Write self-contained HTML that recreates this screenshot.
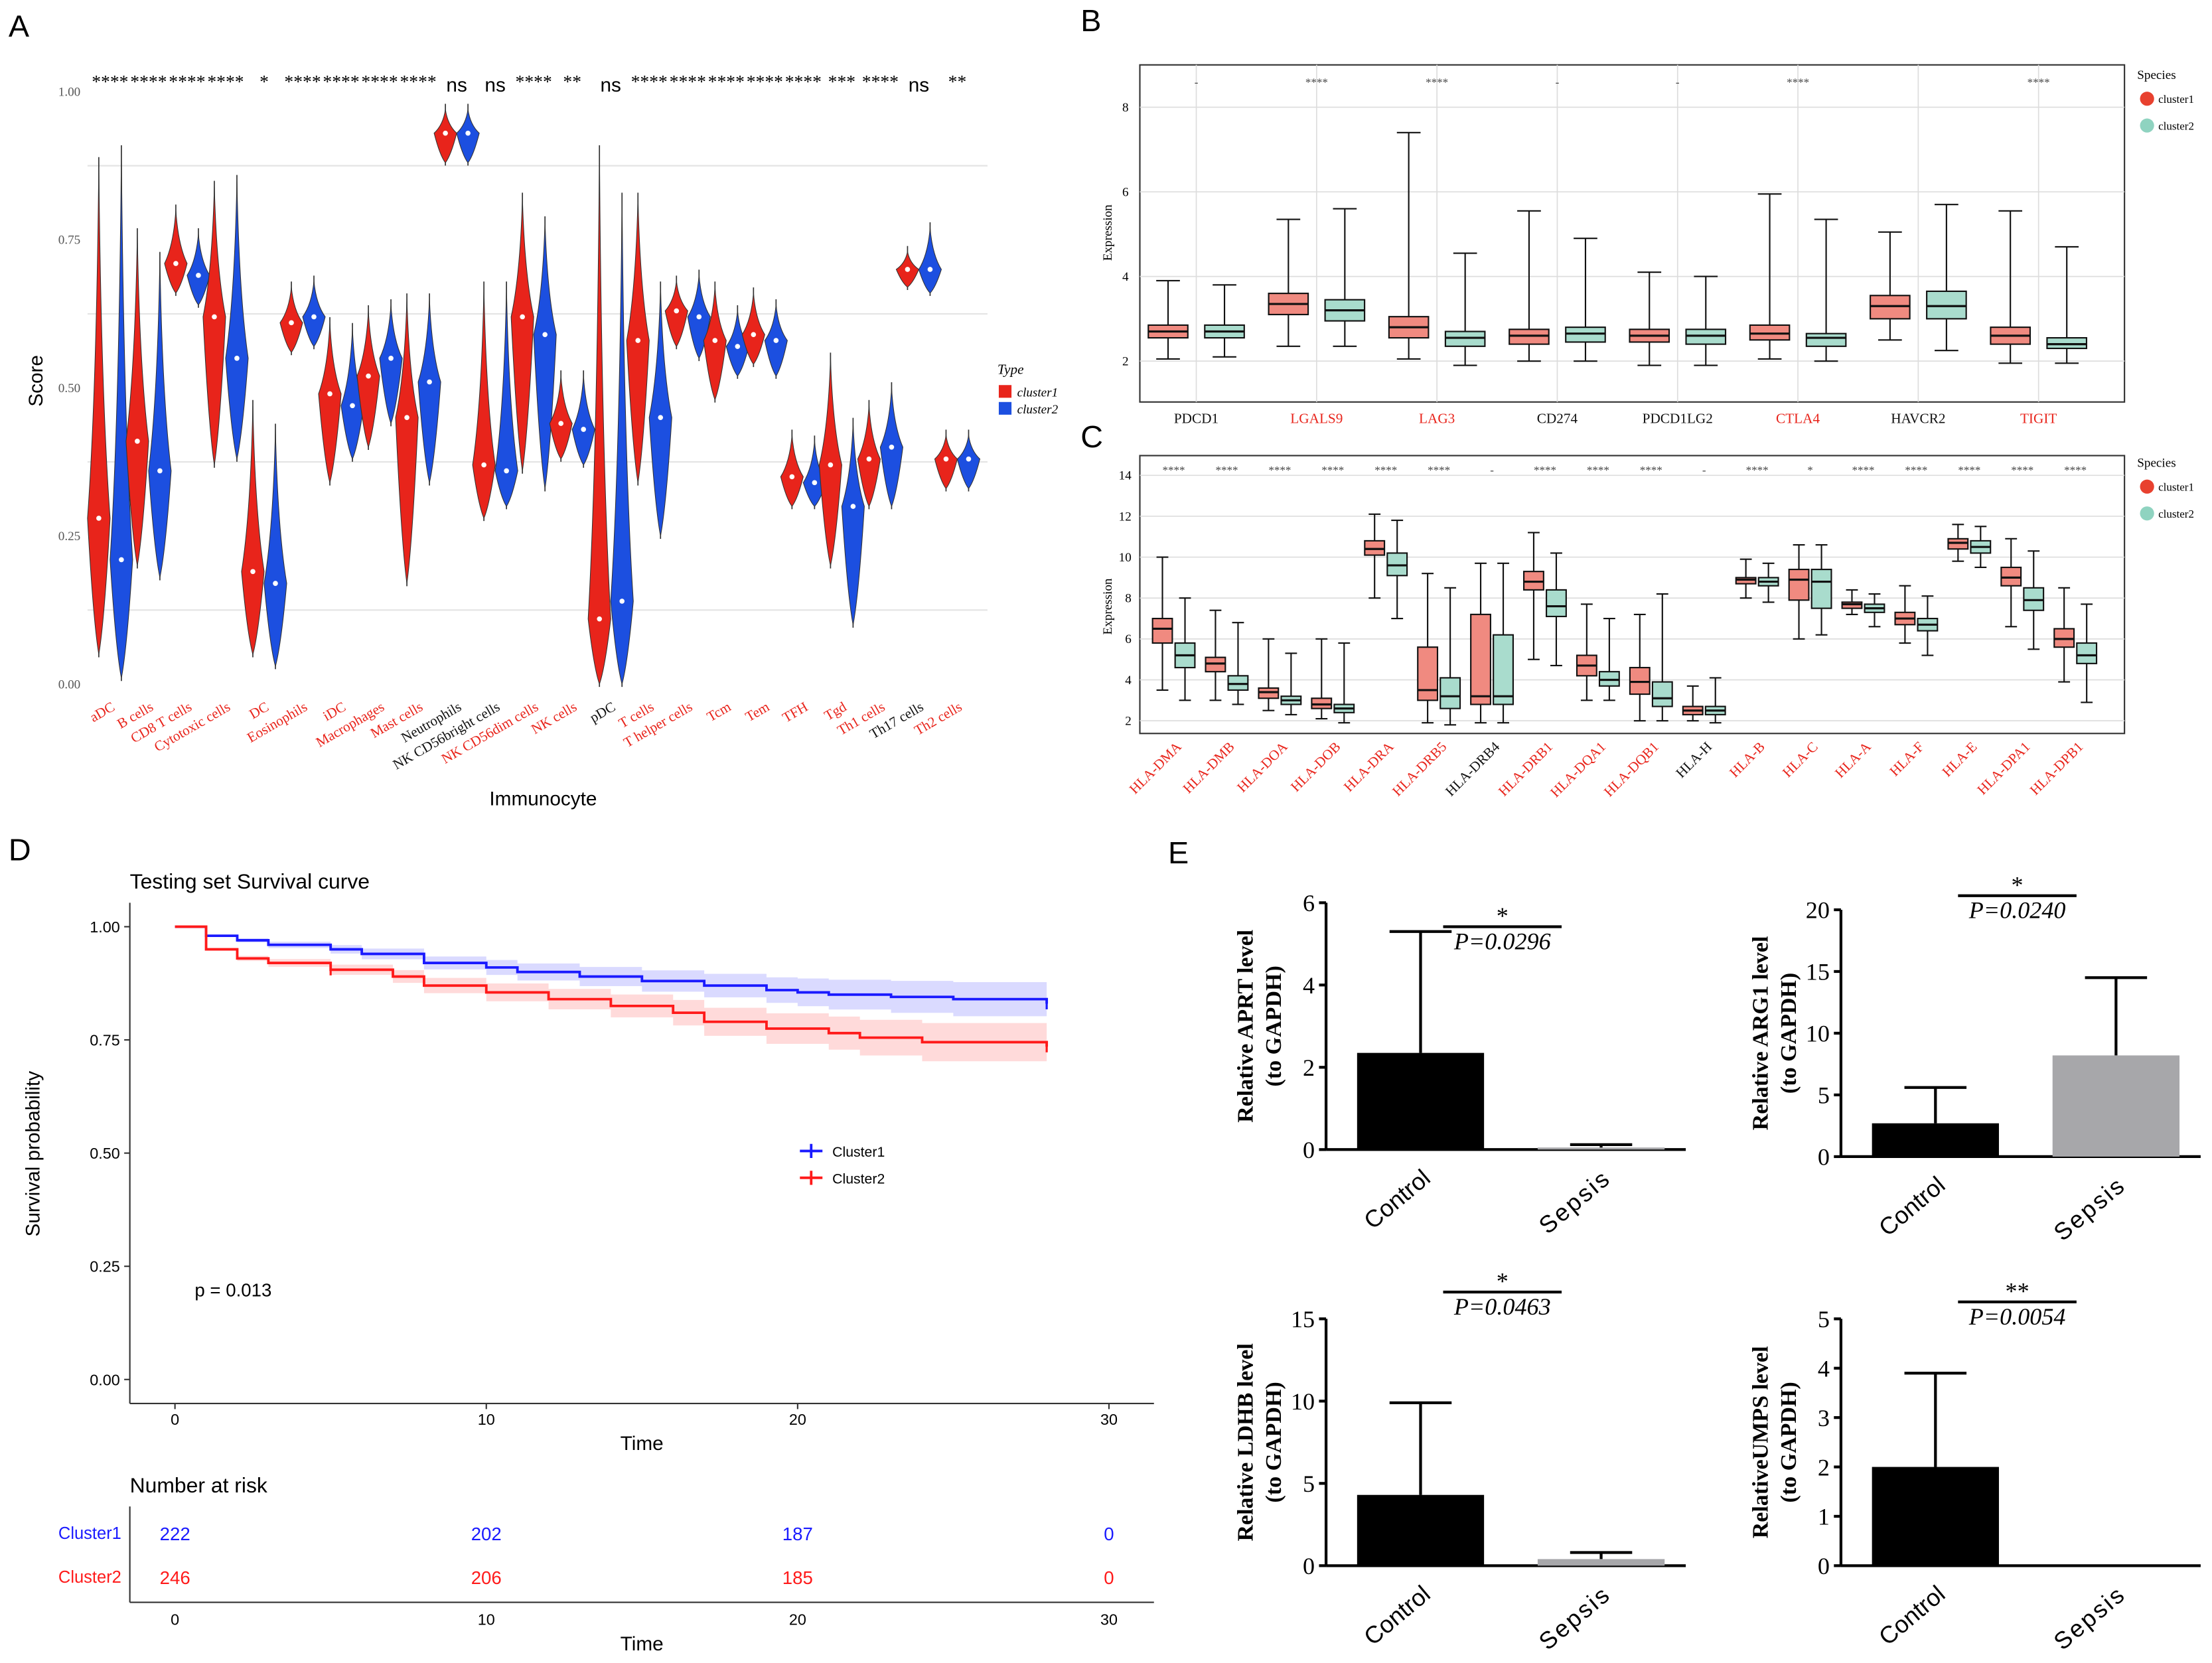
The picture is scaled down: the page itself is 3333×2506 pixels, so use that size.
<!DOCTYPE html>
<html><head><meta charset="utf-8"><style>
html,body{margin:0;padding:0;background:#fff;}
svg{display:block;}
</style></head><body>
<svg id="fig" xmlns="http://www.w3.org/2000/svg" width="3333" height="2506" viewBox="0 0 1568 1179"></svg>
<script>
// ---------- Panel A data ----------
const aCells=["aDC","B cells","CD8 T cells","Cytotoxic cells","DC","Eosinophils","iDC","Macrophages","Mast cells","Neutrophils","NK CD56bright cells","NK CD56dim cells","NK cells","pDC","T cells","T helper cells","Tcm","Tem","TFH","Tgd","Th1 cells","Th17 cells","Th2 cells"];
const aMed1=[0.28,0.41,0.71,0.62,0.19,0.61,0.49,0.52,0.45,0.93,0.37,0.62,0.44,0.11,0.58,0.63,0.58,0.59,0.35,0.37,0.38,0.70,0.38];
const aMed2=[0.21,0.36,0.69,0.55,0.17,0.62,0.47,0.55,0.51,0.93,0.36,0.59,0.43,0.14,0.45,0.62,0.57,0.58,0.34,0.30,0.40,0.70,0.38];
const aMin1=[0.05,0.20,0.66,0.37,0.05,0.56,0.34,0.40,0.17,0.88,0.28,0.36,0.38,0.00,0.34,0.57,0.48,0.54,0.30,0.20,0.30,0.67,0.33];
const aMax1=[0.88,0.76,0.80,0.84,0.47,0.67,0.61,0.63,0.65,0.97,0.67,0.82,0.52,0.90,0.82,0.68,0.67,0.66,0.42,0.55,0.47,0.73,0.42];
const aMin2=[0.01,0.18,0.64,0.38,0.03,0.57,0.38,0.44,0.34,0.88,0.30,0.33,0.37,0.00,0.25,0.55,0.52,0.52,0.30,0.10,0.30,0.66,0.33];
const aMax2=[0.90,0.72,0.76,0.85,0.43,0.68,0.60,0.64,0.65,0.97,0.67,0.78,0.52,0.82,0.67,0.69,0.63,0.64,0.41,0.44,0.50,0.77,0.42];
const aSig=["****","****","****","****","*","****","****","****","****","ns","ns","****","**","ns","****","****","****","****","****","***","****","ns","**"];
const aBlack=["Neutrophils","NK CD56bright cells","pDC","Th17 cells"];
const aTicks=[0,0.25,0.5,0.75,1.0];
// ---------- Panel B data ----------
const bGenes=["PDCD1","LGALS9","LAG3","CD274","PDCD1LG2","CTLA4","HAVCR2","TIGIT"];
const bRed=["LGALS9","LAG3","CTLA4","TIGIT"];
const bSig=["-","****","****","-","-","****","","****"];
const bC1=[[2.05,2.55,2.7,2.85,3.9],[2.35,3.1,3.35,3.6,5.35],[2.05,2.55,2.8,3.05,7.4],[2.0,2.4,2.6,2.75,5.55],[1.9,2.45,2.6,2.75,4.1],[2.05,2.5,2.65,2.85,5.95],[2.5,3.0,3.3,3.55,5.05],[1.95,2.4,2.6,2.8,5.55]];
const bC2=[[2.1,2.55,2.7,2.85,3.8],[2.35,2.95,3.2,3.45,5.6],[1.9,2.35,2.55,2.7,4.55],[2.0,2.45,2.65,2.8,4.9],[1.9,2.4,2.6,2.75,4.0],[2.0,2.35,2.55,2.65,5.35],[2.25,3.0,3.3,3.65,5.7],[1.95,2.3,2.4,2.55,4.7]];
const bTicks=[2,4,6,8];
// ---------- Panel C data ----------
const cGenes=["HLA-DMA","HLA-DMB","HLA-DOA","HLA-DOB","HLA-DRA","HLA-DRB5","HLA-DRB4","HLA-DRB1","HLA-DQA1","HLA-DQB1","HLA-H","HLA-B","HLA-C","HLA-A","HLA-F","HLA-E","HLA-DPA1","HLA-DPB1"];
const cBlack=["HLA-DRB4","HLA-H"];
const cSig=["****","****","****","****","****","****","-","****","****","****","-","****","*","****","****","****","****","****"];
const cC1=[[3.5,5.8,6.5,7.0,10],[3,4.4,4.8,5.1,7.4],[2.5,3.1,3.4,3.6,6],[2.1,2.6,2.8,3.1,6],[8,10.1,10.4,10.8,12.1],[1.9,3,3.5,5.6,9.2],[1.9,2.8,3.2,7.2,9.7],[5,8.4,8.8,9.3,11.2],[3,4.2,4.7,5.2,7.7],[2,3.3,3.9,4.6,7.2],[2,2.3,2.5,2.7,3.7],[8,8.7,8.9,9.0,9.9],[6,7.9,8.9,9.4,10.6],[7.2,7.5,7.7,7.8,8.4],[5.8,6.7,7.0,7.3,8.6],[9.8,10.4,10.7,10.9,11.6],[6.6,8.6,9.0,9.5,10.9],[3.9,5.6,6.0,6.5,8.5]];
const cC2=[[3,4.6,5.2,5.8,8],[2.8,3.5,3.8,4.2,6.8],[2.3,2.8,3.0,3.2,5.3],[1.9,2.4,2.6,2.8,5.8],[7,9.1,9.6,10.2,11.8],[1.8,2.6,3.2,4.1,8.5],[1.9,2.8,3.2,6.2,9.7],[4.7,7.1,7.6,8.4,10.2],[3,3.7,4.0,4.4,7.0],[2,2.7,3.1,3.9,8.2],[1.9,2.3,2.5,2.7,4.1],[7.8,8.6,8.8,9.0,9.7],[6.2,7.5,8.8,9.4,10.6],[6.6,7.3,7.5,7.7,8.2],[5.2,6.4,6.7,7.0,8.1],[9.5,10.2,10.5,10.8,11.5],[5.5,7.4,7.9,8.5,10.3],[2.9,4.8,5.2,5.8,7.7]];
const cTicks=[2,4,6,8,10,12,14];
// ---------- Panel D data ----------
const dT1=[0,1,2,3,5,6,8,10,11,13,15,17,19,20,21,23,25,28];
const dS1=[1,0.98,0.97,0.96,0.95,0.94,0.92,0.91,0.90,0.89,0.88,0.87,0.86,0.855,0.85,0.845,0.84,0.83];
const dT2=[0,1,2,3,5,7,8,10,12,14,16,17,19,21,22,24,28];
const dS2=[1,0.95,0.93,0.92,0.905,0.89,0.87,0.855,0.84,0.825,0.81,0.79,0.775,0.765,0.755,0.745,0.735];
const dXTicks=[0,10,20,30];
const dYTicks=[0,0.25,0.5,0.75,1.0];
const dRisk1=[222,202,187,0];
const dRisk2=[246,206,185,0];
// ---------- Panel E data ----------
const eTitles=[["Relative APRT level","(to GAPDH)"],["Relative ARG1 level","(to GAPDH)"],["Relative LDHB level","(to GAPDH)"],["RelativeUMPS level","(to GAPDH)"]];
const eCtrl=[2.35,2.7,4.3,2.0];
const eCtrlErr=[5.3,5.6,9.9,3.9];
const eSeps=[0.05,8.2,0.4,0];
const eSepsErr=[0.12,14.5,0.8,0];
const eMax=[6,20,15,5];
const eStep=[2,5,5,1];
const eP=["P=0.0296","P=0.0240","P=0.0463","P=0.0054"];
const eStars=["*","*","*","**"];

const NS="http://www.w3.org/2000/svg";
const svg=document.getElementById('fig');
function mk(tag,attrs,name,parent,txt){
  const el=document.createElementNS(NS,tag);
  for(const k in attrs) el.setAttribute(k,attrs[k]);
  
  
  if(txt!==undefined) el.textContent=txt;
  (parent||svg).appendChild(el);
  return el;
}
const SERIF='"Liberation Serif", serif', SANS='"Liberation Sans", sans-serif';

// ================= Panel A =================
mk('text',{x:6,y:26,'font-family':SANS,'font-size':22},'panel-a-label',null,'A');
const ax0=62,ax1=700,ayTop=45,ayBot=492;
const aY=v=>485-v*420;
const aX=i=>78+i*27.3;
[0.125,0.375,0.625,0.875].forEach(v=>mk('line',{x1:ax0,x2:ax1,y1:aY(v),y2:aY(v),stroke:'#e4e4e4','stroke-width':1},'a-gridline'));
aTicks.forEach(v=>mk('text',{x:57,y:aY(v)+3,'text-anchor':'end','font-family':SERIF,'font-size':9,fill:'#555'},'a-y-tick',null,v.toFixed(2)));
mk('text',{x:30,y:270,'text-anchor':'middle','font-family':SANS,'font-size':14,transform:'rotate(-90 30 270)'},'a-y-axis-title',null,'Score');
function violin(cx,w,mn,md,mx,col,name){
  const yt=aY(mx),ym=aY(md),yb=aY(mn);
  const d=`M${cx},${yt} Q${cx+w*0.2},${ym-(ym-yt)*0.35} ${cx+w},${ym} Q${cx+w*0.5},${yb-(yb-ym)*0.25} ${cx},${yb} Q${cx-w*0.5},${yb-(yb-ym)*0.25} ${cx-w},${ym} Q${cx-w*0.2},${ym-(ym-yt)*0.35} ${cx},${yt} Z`;
  mk('line',{x1:cx,x2:cx,y1:yt-4,y2:yb+2,stroke:'#333','stroke-width':0.8},name+'-whisker');
  mk('path',{d:d,fill:col,stroke:'#333','stroke-width':0.5},name);
  mk('circle',{cx:cx,cy:ym,r:1.8,fill:'#fff'},name+'-median');
}
aCells.forEach((c,i)=>{
  const cx=aX(i);
  violin(cx-8,8,aMin1[i],aMed1[i],aMax1[i],'#e8241b','violin-cluster1');
  violin(cx+8,8,aMin2[i],aMed2[i],aMax2[i],'#1c4fe0','violin-cluster2');
  const isNs=aSig[i]==='ns';
  mk('text',{x:cx,y:isNs?65:62,'text-anchor':'middle','font-family':isNs?SANS:SERIF,'font-size':isNs?14:13},'a-significance',null,aSig[i]);
  const col=aBlack.includes(c)?'#111':'#e8241b';
  mk('text',{x:cx+4,y:503,'text-anchor':'end','font-family':SERIF,'font-size':10,fill:col,transform:`rotate(-30 ${cx+4} 503)`},'a-x-tick-label',null,c);
});
mk('text',{x:385,y:571,'text-anchor':'middle','font-family':SANS,'font-size':14},'a-x-axis-title',null,'Immunocyte');
mk('text',{x:707,y:265,'font-family':SERIF,'font-size':10,'font-style':'italic'},'a-legend-title',null,'Type');
mk('rect',{x:708,y:273,width:9,height:9,fill:'#e8241b'},'a-legend-swatch-cluster1');
mk('rect',{x:708,y:285,width:9,height:9,fill:'#1c4fe0'},'a-legend-swatch-cluster2');
mk('text',{x:721,y:281,'font-family':SERIF,'font-size':9,'font-style':'italic'},'a-legend-cluster1',null,'cluster1');
mk('text',{x:721,y:293,'font-family':SERIF,'font-size':9,'font-style':'italic'},'a-legend-cluster2',null,'cluster2');

// ================= Box helper =================
function box(cx,w,q,Y,col,name){
  const [mn,q1,md,q3,mx]=q;
  mk('line',{x1:cx,x2:cx,y1:Y(mx),y2:Y(mn),stroke:'#111','stroke-width':1},name+'-whisker');
  mk('line',{x1:cx-w*0.3,x2:cx+w*0.3,y1:Y(mx),y2:Y(mx),stroke:'#111','stroke-width':1},name+'-cap');
  mk('line',{x1:cx-w*0.3,x2:cx+w*0.3,y1:Y(mn),y2:Y(mn),stroke:'#111','stroke-width':1},name+'-cap');
  mk('rect',{x:cx-w/2,y:Y(q3),width:w,height:Y(q1)-Y(q3),fill:col,stroke:'#111','stroke-width':1},name);
  mk('line',{x1:cx-w/2,x2:cx+w/2,y1:Y(md),y2:Y(md),stroke:'#111','stroke-width':1.5},name+'-median');
}
const RED='#f08a80',GRN='#a9dccd';

// ================= Panel B =================
mk('text',{x:766,y:22,'font-family':SANS,'font-size':22},'panel-b-label',null,'B');
mk('rect',{x:808,y:46,width:698,height:239,fill:'#fff',stroke:'#333','stroke-width':1},'b-plot-area');
const bY=v=>256-(v-2)*30;
const bX=i=>848+i*85.3;
bTicks.forEach(v=>{mk('line',{x1:808,x2:1506,y1:bY(v),y2:bY(v),stroke:'#ddd','stroke-width':0.8},'b-gridline');
  mk('text',{x:800,y:bY(v)+3,'text-anchor':'end','font-family':SERIF,'font-size':9},'b-y-tick',null,v);});
mk('text',{x:788,y:165,'text-anchor':'middle','font-family':SERIF,'font-size':9,transform:'rotate(-90 788 165)'},'b-y-axis-title',null,'Expression');
bGenes.forEach((g,i)=>{const cx=bX(i);
  mk('line',{x1:cx,x2:cx,y1:46,y2:285,stroke:'#ddd','stroke-width':0.8},'b-gridline-v');
  box(cx-20,28,bC1[i],bY,RED,'b-box-cluster1');
  box(cx+20,28,bC2[i],bY,GRN,'b-box-cluster2');
  mk('text',{x:cx,y:61,'text-anchor':'middle','font-family':SERIF,'font-size':8,fill:'#444'},'b-significance',null,bSig[i]);
  mk('text',{x:cx,y:300,'text-anchor':'middle','font-family':SERIF,'font-size':10,fill:bRed.includes(g)?'#e8241b':'#111'},'b-x-tick-label',null,g);
});
mk('text',{x:1515,y:56,'font-family':SERIF,'font-size':9},'b-legend-title',null,'Species');
mk('circle',{cx:1522,cy:70,r:5,fill:'#e8412f'},'b-legend-swatch-cluster1');
mk('circle',{cx:1522,cy:89,r:5,fill:'#8fd3c0'},'b-legend-swatch-cluster2');
mk('text',{x:1530,y:73,'font-family':SERIF,'font-size':8},'b-legend-cluster1',null,'cluster1');
mk('text',{x:1530,y:92,'font-family':SERIF,'font-size':8},'b-legend-cluster2',null,'cluster2');

// ================= Panel C =================
mk('text',{x:766,y:317,'font-family':SANS,'font-size':22},'panel-c-label',null,'C');
mk('rect',{x:808,y:323,width:698,height:197,fill:'#fff',stroke:'#333','stroke-width':1},'c-plot-area');
const cY=v=>511-(v-2)*14.5;
const cX=i=>832+i*37.6;
cTicks.forEach(v=>{mk('line',{x1:808,x2:1506,y1:cY(v),y2:cY(v),stroke:'#ddd','stroke-width':0.8},'c-gridline');
  mk('text',{x:802,y:cY(v)+3,'text-anchor':'end','font-family':SERIF,'font-size':9},'c-y-tick',null,v);});
mk('text',{x:788,y:430,'text-anchor':'middle','font-family':SERIF,'font-size':9,transform:'rotate(-90 788 430)'},'c-y-axis-title',null,'Expression');
cGenes.forEach((g,i)=>{const cx=cX(i);
  box(cx-8,14,cC1[i],cY,RED,'c-box-cluster1');
  box(cx+8,14,cC2[i],cY,GRN,'c-box-cluster2');
  mk('text',{x:cx,y:336,'text-anchor':'middle','font-family':SERIF,'font-size':8,fill:'#444'},'c-significance',null,cSig[i]);
  mk('text',{x:cx+6,y:530,'text-anchor':'end','font-family':SERIF,'font-size':10,fill:cBlack.includes(g)?'#111':'#e8241b',transform:`rotate(-45 ${cx+6} 530)`},'c-x-tick-label',null,g);
});
mk('text',{x:1515,y:331,'font-family':SERIF,'font-size':9},'c-legend-title',null,'Species');
mk('circle',{cx:1522,cy:345,r:5,fill:'#e8412f'},'c-legend-swatch-cluster1');
mk('circle',{cx:1522,cy:364,r:5,fill:'#8fd3c0'},'c-legend-swatch-cluster2');
mk('text',{x:1530,y:348,'font-family':SERIF,'font-size':8},'c-legend-cluster1',null,'cluster1');
mk('text',{x:1530,y:367,'font-family':SERIF,'font-size':8},'c-legend-cluster2',null,'cluster2');

// ================= Panel D =================
mk('text',{x:6,y:610,'font-family':SANS,'font-size':22},'panel-d-label',null,'D');
mk('text',{x:92,y:630,'font-family':SANS,'font-size':15},'d-title',null,'Testing set Survival curve');
const dX=t=>124+t*22.07;
const dY=s=>978-s*321;
mk('line',{x1:92,x2:92,y1:640,y2:995},'d-y-axis').setAttribute('stroke','#333');
mk('line',{x1:92,x2:818,y1:995,y2:995},'d-x-axis').setAttribute('stroke','#333');
dYTicks.forEach(v=>{mk('line',{x1:88,x2:92,y1:dY(v),y2:dY(v),stroke:'#333'},'d-y-tick-mark');
  mk('text',{x:85,y:dY(v)+4,'text-anchor':'end','font-family':SANS,'font-size':11},'d-y-tick',null,v.toFixed(2));});
dXTicks.forEach(v=>{mk('line',{x1:dX(v),x2:dX(v),y1:995,y2:999,stroke:'#333'},'d-x-tick-mark');
  mk('text',{x:dX(v),y:1010,'text-anchor':'middle','font-family':SANS,'font-size':11},'d-x-tick',null,v);});
mk('text',{x:455,y:1028,'text-anchor':'middle','font-family':SANS,'font-size':14},'d-x-axis-title',null,'Time');
mk('text',{x:28,y:818,'text-anchor':'middle','font-family':SANS,'font-size':14,transform:'rotate(-90 28 818)'},'d-y-axis-title',null,'Survival probability');
function stepPath(T,S,off){let d=`M${dX(T[0])},${dY(Math.min(1,S[0]+off))}`;
  for(let i=1;i<T.length;i++){d+=` H${dX(T[i])} V${dY(Math.min(1,S[i]+off))}`;} return d;}
function band(T,S,k,col,name){const up=[],lo=[];
  let d=stepPath(T,S,0)+' ';
  let pts=[];for(let i=0;i<T.length;i++){const w=k*i/(T.length-1);pts.push([T[i],S[i]+w,S[i]-w]);}
  let p=`M${dX(pts[0][0])},${dY(Math.min(1,pts[0][1]))}`;
  for(let i=1;i<pts.length;i++)p+=` H${dX(pts[i][0])} V${dY(Math.min(1,pts[i][1]))}`;
  p+=` H${dX(28)}`;
  p+=` V${dY(pts[pts.length-1][2])}`;
  for(let i=pts.length-1;i>=1;i--)p+=` H${dX(pts[i][0])} V${dY(pts[i-1][2])}`;
  p+=` H${dX(pts[0][0])} Z`;
  mk('path',{d:p,fill:col,'fill-opacity':0.18,stroke:'none'},name);}
band(dT1,dS1,0.04,'#3333ff','d-ci-cluster1');
band(dT2,dS2,0.045,'#ff3333','d-ci-cluster2');
mk('path',{d:stepPath(dT1,dS1,0)+` H${dX(28)}`,fill:'none',stroke:'#1a1aff','stroke-width':1.8},'d-curve-cluster1');
mk('path',{d:stepPath(dT2,dS2,0)+` H${dX(28)}`,fill:'none',stroke:'#ff1a1a','stroke-width':1.8},'d-curve-cluster2');
[[28,dS1[dS1.length-1],'#1a1aff'],[5,0.905,'#ff1a1a'],[28,dS2[dS2.length-1],'#ff1a1a']].forEach(c=>mk('path',{d:`M${dX(c[0])},${dY(c[1])-4} v8`,stroke:c[2],'stroke-width':1.5},'d-censor-mark'));
mk('path',{d:'M567,816 h16 M575,811 v10',stroke:'#1a1aff','stroke-width':1.8},'d-legend-swatch-cluster1');
mk('path',{d:'M567,835 h16 M575,830 v10',stroke:'#ff1a1a','stroke-width':1.8},'d-legend-swatch-cluster2');
mk('text',{x:590,y:820,'font-family':SANS,'font-size':10},'d-legend-cluster1',null,'Cluster1');
mk('text',{x:590,y:839,'font-family':SANS,'font-size':10},'d-legend-cluster2',null,'Cluster2');
mk('text',{x:138,y:919,'font-family':SANS,'font-size':13},'d-p-value',null,'p = 0.013');
mk('text',{x:92,y:1058,'font-family':SANS,'font-size':15},'d-risk-title',null,'Number at risk');
mk('line',{x1:92,x2:92,y1:1068,y2:1136,stroke:'#333'},'d-risk-y-axis');
mk('line',{x1:92,x2:818,y1:1136,y2:1136,stroke:'#333'},'d-risk-x-axis');
mk('text',{x:86,y:1091,'text-anchor':'end','font-family':SANS,'font-size':12,fill:'#1a1aff'},'d-risk-label-cluster1',null,'Cluster1');
mk('text',{x:86,y:1122,'text-anchor':'end','font-family':SANS,'font-size':12,fill:'#ff1a1a'},'d-risk-label-cluster2',null,'Cluster2');
dXTicks.forEach((v,i)=>{
  mk('text',{x:dX(v),y:1092,'text-anchor':'middle','font-family':SANS,'font-size':13,fill:'#1a1aff'},'d-risk-count-cluster1',null,dRisk1[i]);
  mk('text',{x:dX(v),y:1123,'text-anchor':'middle','font-family':SANS,'font-size':13,fill:'#ff1a1a'},'d-risk-count-cluster2',null,dRisk2[i]);
  mk('text',{x:dX(v),y:1152,'text-anchor':'middle','font-family':SANS,'font-size':11},'d-risk-x-tick',null,v);
});
mk('text',{x:455,y:1170,'text-anchor':'middle','font-family':SANS,'font-size':14},'d-risk-x-axis-title',null,'Time');

// ================= Panel E =================
mk('text',{x:828,y:612,'font-family':SANS,'font-size':22},'panel-e-label',null,'E');
const eLay=[{ax:940,y0:815,y1:640},{ax:1305,y0:820,y1:645},{ax:940,y0:1110,y1:935},{ax:1305,y0:1110,y1:935}];
eLay.forEach((L,k)=>{
  const Y=v=>L.y0-(v/eMax[k])*(L.y0-L.y1);
  mk('line',{x1:L.ax,x2:L.ax,y1:L.y1,y2:L.y0,stroke:'#000','stroke-width':2},'e-y-axis');
  mk('line',{x1:L.ax,x2:L.ax+255,y1:L.y0,y2:L.y0,stroke:'#000','stroke-width':2},'e-x-axis');
  for(let v=0;v<=eMax[k];v+=eStep[k]){
    mk('line',{x1:L.ax-5,x2:L.ax,y1:Y(v),y2:Y(v),stroke:'#000','stroke-width':2},'e-y-tick-mark');
    mk('text',{x:L.ax-8,y:Y(v)+6,'text-anchor':'end','font-family':SERIF,'font-size':17},'e-y-tick',null,v);
  }
  const cx1=L.ax+67,cx2=L.ax+195;
  mk('rect',{x:cx1-45,y:Y(eCtrl[k]),width:90,height:L.y0-Y(eCtrl[k]),fill:'#000'},'e-bar-control');
  mk('path',{d:`M${cx1},${Y(eCtrl[k])} V${Y(eCtrlErr[k])} M${cx1-22},${Y(eCtrlErr[k])} H${cx1+22}`,stroke:'#000','stroke-width':2},'e-errorbar-control');
  if(eSeps[k]>0){
    mk('rect',{x:cx2-45,y:Y(eSeps[k]),width:90,height:L.y0-Y(eSeps[k]),fill:'#a7a7aa'},'e-bar-sepsis');
    mk('path',{d:`M${cx2},${Y(eSeps[k])} V${Y(eSepsErr[k])} M${cx2-22},${Y(eSepsErr[k])} H${cx2+22}`,stroke:'#000','stroke-width':2},'e-errorbar-sepsis');
  }
  const mx=L.ax+125, ly=L.y1-(k===1?10:(k===0?-17:k===2?19:12));
  mk('line',{x1:mx-42,x2:mx+42,y1:ly,y2:ly,stroke:'#000','stroke-width':2},'e-significance-line');
  mk('text',{x:mx,y:ly-2,'text-anchor':'middle','font-family':SERIF,'font-size':17},'e-significance-stars',null,eStars[k]);
  mk('text',{x:mx,y:ly+16,'text-anchor':'middle','font-family':SERIF,'font-size':17,'font-style':'italic'},'e-p-value',null,eP[k]);
  const tx=L.ax-52, ty=(L.y0+L.y1)/2;
  mk('text',{x:tx,y:ty,'text-anchor':'middle','font-family':SERIF,'font-size':16,'font-weight':'bold',transform:`rotate(-90 ${tx} ${ty})`},'e-y-axis-title',null,eTitles[k][0]);
  mk('text',{x:tx+20,y:ty,'text-anchor':'middle','font-family':SERIF,'font-size':16,'font-weight':'bold',transform:`rotate(-90 ${tx+20} ${ty})`},'e-y-axis-title-unit',null,eTitles[k][1]);
  mk('text',{x:cx1+8,y:L.y0+22,'text-anchor':'end','font-family':SANS,'font-size':17,transform:`rotate(-40 ${cx1+8} ${L.y0+22})`},'e-x-tick-control',null,'Control');
  mk('text',{x:cx2+8,y:L.y0+22,'text-anchor':'end','font-family':SANS,'font-size':17,'letter-spacing':'1.5',transform:`rotate(-40 ${cx2+8} ${L.y0+22})`},'e-x-tick-sepsis',null,'Sepsis');
});
</script>
</body></html>
